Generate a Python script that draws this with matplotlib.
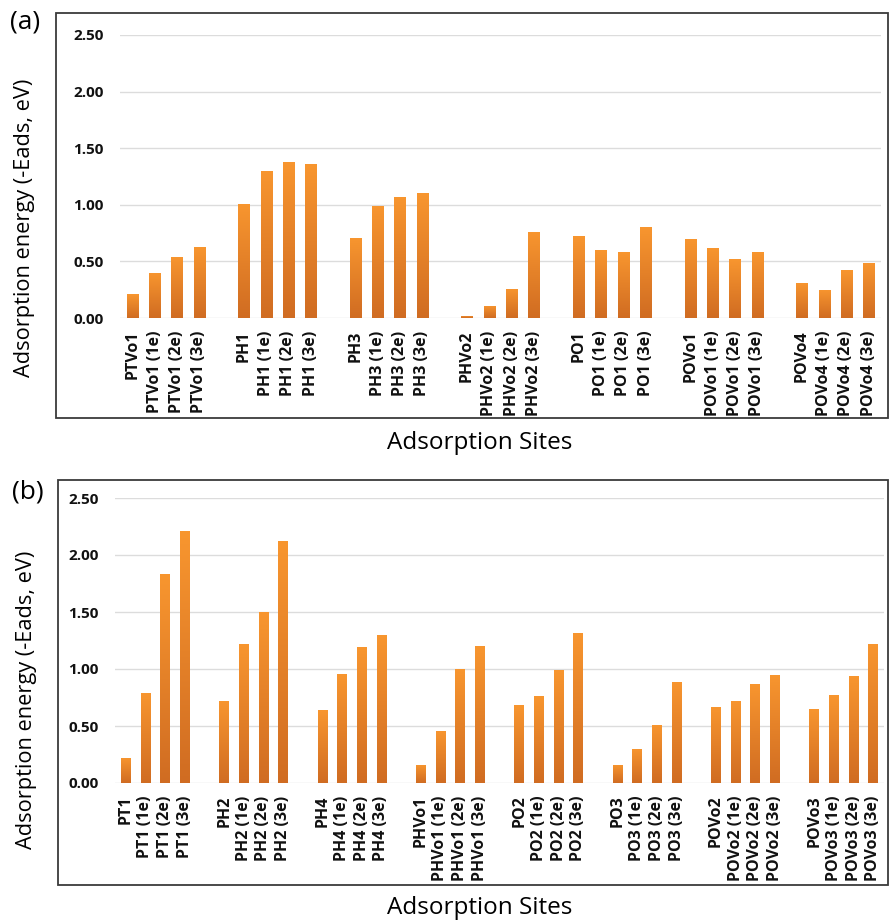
import matplotlib.pyplot as plt
import numpy as np
from matplotlib.colors import LinearSegmentedColormap
from matplotlib.patches import Rectangle

# panel (a)
sites_a = ['PTVo1', 'PH1', 'PH3', 'PHVo2', 'PO1', 'POVo1', 'POVo4']
eads_a = [
    [0.21, 0.40, 0.54, 0.63],
    [1.01, 1.30, 1.38, 1.36],
    [0.71, 0.99, 1.07, 1.10],
    [0.02, 0.11, 0.26, 0.76],
    [0.72, 0.60, 0.58, 0.80],
    [0.70, 0.62, 0.52, 0.58],
    [0.31, 0.25, 0.42, 0.49],
]

# panel (b)
sites_b = ['PT1', 'PH2', 'PH4', 'PHVo1', 'PO2', 'PO3', 'POVo2', 'POVo3']
eads_b = [
    [0.22, 0.79, 1.83, 2.21],
    [0.72, 1.22, 1.50, 2.12],
    [0.64, 0.96, 1.19, 1.30],
    [0.16, 0.46, 1.00, 1.20],
    [0.68, 0.76, 0.99, 1.32],
    [0.16, 0.30, 0.51, 0.89],
    [0.67, 0.72, 0.87, 0.95],
    [0.65, 0.77, 0.94, 1.22],
]

charge_states = ['', ' (1e)', ' (2e)', ' (3e)']
yticks = [0.0, 0.5, 1.0, 1.5, 2.0, 2.5]

orange = LinearSegmentedColormap.from_list('bar', ['#d06c22', '#f8962f'])
grad = np.linspace(0, 1, 256).reshape(-1, 1)

plt.rcParams['font.family'] = ['Open Sans', 'DejaVu Sans']

fig = plt.figure(figsize=(8.89, 9.24), dpi=100)
W, H = 889, 924


def px(x0, y0, x1, y1):
    # pixel box (top-left origin) -> figure fraction rect
    return [x0 / W, 1 - y1 / H, (x1 - x0) / W, (y1 - y0) / H]


def panel(rect, box, sites, values, tag, tag_xy, ylab_xy, xlab_xy):
    # frame around the whole panel
    fig.patches.append(Rectangle((box[0] / W, 1 - box[3] / H),
                                 (box[2] - box[0]) / W, (box[3] - box[1]) / H,
                                 transform=fig.transFigure, fill=False,
                                 edgecolor='#3a3a3a', lw=1.3))
    ax = fig.add_axes(rect)
    pos, labels, heights = [], [], []
    for g, (site, vals) in enumerate(zip(sites, values)):
        for i, v in enumerate(vals):
            pos.append(g * 5 + i)
            labels.append(site + charge_states[i])
            heights.append(v)
    n = pos[-1] + 1
    bars = ax.bar(pos, heights, width=0.5, color='none', edgecolor='none', zorder=3)
    for b in bars:
        x, y = b.get_x(), b.get_y()
        im = ax.imshow(grad, cmap=orange, origin='lower', aspect='auto',
                       extent=[x, x + b.get_width(), y, y + b.get_height()],
                       zorder=3)
        im.set_clip_path(b)
    ax.set_xlim(-0.55, n - 0.45)
    ax.set_ylim(0, 2.5)
    ax.set_yticks(yticks)
    ax.set_yticklabels([f'{t:.2f}' for t in yticks], fontsize=11, fontweight='bold')
    ax.set_xticks(pos)
    ax.set_xticklabels(labels, rotation=90, fontsize=11.5, fontweight='bold')
    ax.tick_params(length=0, pad=12, colors='#111111')
    ax.tick_params(axis='x', pad=9)
    ax.grid(axis='y', color='#dcdcdc', lw=1, zorder=0)
    ax.set_axisbelow(True)
    for s in ax.spines.values():
        s.set_visible(False)
    fig.text(tag_xy[0] / W, 1 - tag_xy[1] / H, tag, fontsize=19, ha='left', va='center')
    fig.text(ylab_xy[0] / W, 1 - ylab_xy[1] / H, 'Adsorption energy (-Eads, eV)',
             fontsize=15.7, rotation=90, ha='center', va='center')
    fig.text(xlab_xy[0] / W, 1 - xlab_xy[1] / H, 'Adsorption Sites',
             fontsize=17.5, ha='center', va='center')
    return ax


panel(px(120, 35, 881, 318), (56, 13, 888, 418), sites_a, eads_a,
      '(a)', (10, 22), (25, 228), (480, 443))
panel(px(115, 498, 884, 783), (58, 480, 888, 885), sites_b, eads_b,
      '(b)', (12, 492), (27, 700), (480, 908))

fig.savefig('out.png', dpi=100)
